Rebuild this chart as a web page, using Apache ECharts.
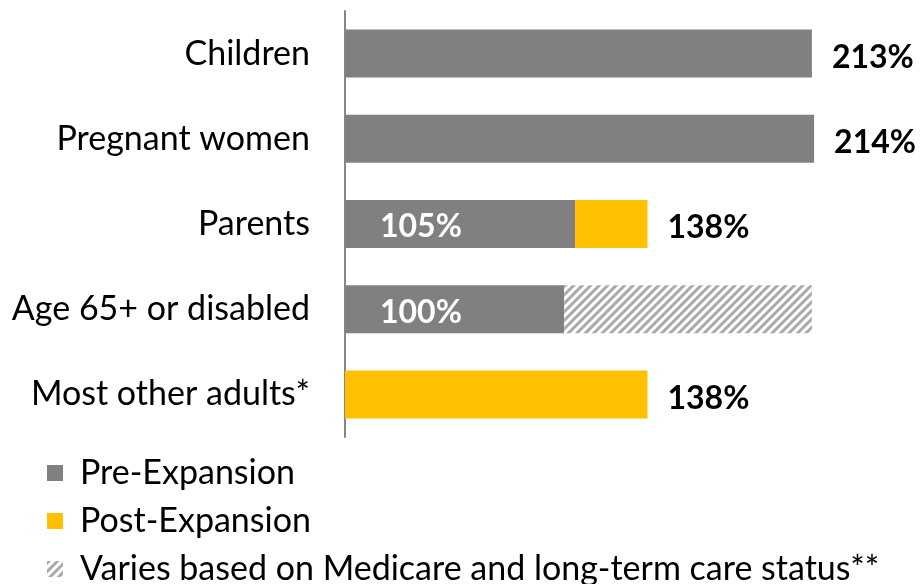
<!DOCTYPE html>
<html>
<head>
<meta charset="utf-8">
<script src="https://cdn.jsdelivr.net/npm/echarts@6/dist/echarts.min.js"></script>
<style>html,body{margin:0;padding:0;background:#fff;}#c{width:920px;height:584px;}</style>
</head>
<body>
<div id="c"></div>
<script>
const categories = ['Children', 'Pregnant women', 'Parents', 'Age 65+ or disabled', 'Most other adults*'];
const preExpansion = [213, 214, 105, 100, null];
const postExpansion = [null, null, 33, null, 138];
const varies = [null, null, null, 113, null];
const seriesNames = ['Pre-Expansion', 'Post-Expansion', 'Varies based on Medicare and long-term care status**'];

const FONT = 'Lato, "Liberation Sans", Arial, sans-serif';
const chart = echarts.init(document.getElementById('c'));

const preLabels = preExpansion.map((v, i) => {
  if (v == null) return { value: v };
  const hasMore = postExpansion[i] != null || varies[i] != null;
  return {
    value: v,
    label: hasMore
      ? { show: true, position: 'insideLeft', offset: [30, 3], color: '#fff' }
      : { show: true, position: 'right', distance: 20, offset: [0, 4], color: '#000' }
  };
});

chart.setOption({
  animation: false,
  textStyle: { fontFamily: FONT },
  grid: { left: 345, right: 27, top: 11, bottom: 147, containLabel: false },
  xAxis: { type: 'value', min: 0, max: 250, show: false },
  yAxis: {
    type: 'category', data: categories, inverse: true,
    axisLine: { lineStyle: { color: '#868686', width: 2 } },
    axisTick: { show: false },
    axisLabel: { fontSize: 34, color: '#000', margin: 35, fontFamily: FONT }
  },
  legend: {
    orient: 'vertical', left: 42, top: 450, height: 150,
    itemWidth: 16, itemHeight: 16, itemGap: 12,
    icon: 'rect',
    textStyle: { fontSize: 34, color: '#000', fontFamily: FONT, lineHeight: 36, padding: [0, 0, 0, 12] },
    data: seriesNames
  },
  series: [
    {
      name: seriesNames[0], type: 'bar', stack: 'a', barWidth: 48,
      itemStyle: { color: '#808080' },
      label: { fontSize: 32, fontWeight: 'bold', fontFamily: FONT, formatter: p => p.value + '%' },
      data: preLabels
    },
    {
      name: seriesNames[1], type: 'bar', stack: 'a', barWidth: 48,
      itemStyle: { color: '#FFC000' },
      label: {
        show: true, position: 'right', distance: 20, offset: [0, 4], color: '#000',
        fontSize: 32, fontWeight: 'bold', fontFamily: FONT,
        formatter: p => ((preExpansion[p.dataIndex] || 0) + p.value) + '%'
      },
      data: postExpansion
    },
    {
      name: seriesNames[2], type: 'bar', stack: 'a', barWidth: 48,
      itemStyle: {
        color: '#ffffff',
        decal: {
          symbol: 'rect', symbolSize: 1, color: '#aaaaaa',
          dashArrayX: [1, 0], dashArrayY: [3, 3], rotation: -Math.PI / 4
        }
      },
      data: varies
    }
  ]
});
</script>
</body>
</html>
